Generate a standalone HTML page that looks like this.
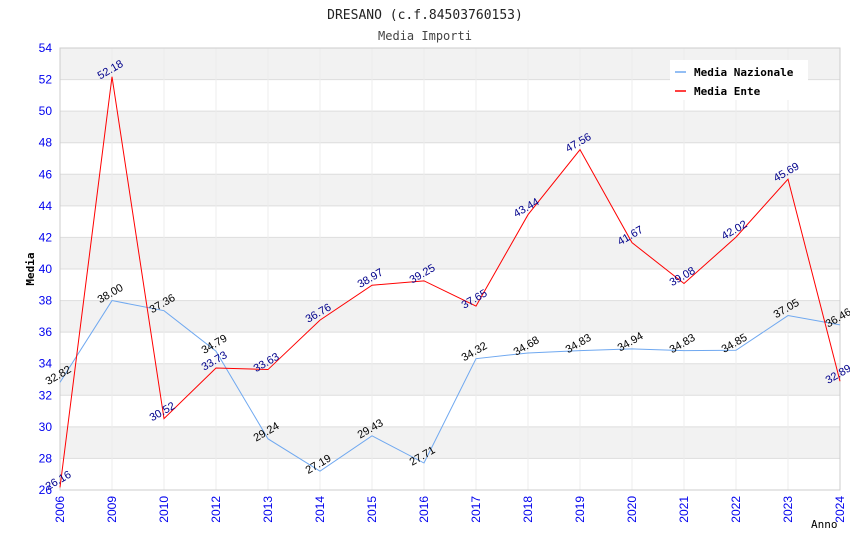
<!DOCTYPE html>
<html><head><meta charset="utf-8"><style>
body{margin:0;background:#fff;}
svg{display:block;font-family:"Liberation Sans",sans-serif;}
</style></head><body>
<svg id="chart" width="850" height="550" viewBox="0 0 850 550">
<text x="425" y="19" text-anchor="middle" font-family="DejaVu Sans Mono, Liberation Mono, monospace" font-size="13" fill="#222">DRESANO (c.f.84503760153)</text>
<text x="425" y="40" text-anchor="middle" font-family="DejaVu Sans Mono, Liberation Mono, monospace" font-size="12" fill="#444">Media Importi</text>
<g id="plot"></g>
</svg>
<script>
const years = ['2006','2009','2010','2012','2013','2014','2015','2016','2017','2018','2019','2020','2021','2022','2023','2024'];
const nazionale = [32.82,38.00,37.36,34.79,29.24,27.19,29.43,27.71,34.32,34.68,34.83,34.94,34.83,34.85,37.05,36.46];
const ente = [26.16,52.18,30.52,33.73,33.63,36.76,38.97,39.25,37.65,43.44,47.56,41.67,39.08,42.02,45.69,32.89];
const yTicks = [26,28,30,32,34,36,38,40,42,44,46,48,50,52,54];
const L=60,R=840,T=48,B=490,yMin=26,yMax=54;
const x=i=>L+i*(R-L)/(years.length-1);
const y=v=>B-(v-yMin)/(yMax-yMin)*(B-T);
const NS='http://www.w3.org/2000/svg';
const g=document.getElementById('plot');
function mk(t,a){const e=document.createElementNS(NS,t);for(const k in a)e.setAttribute(k,a[k]);g.appendChild(e);return e;}
for(let i=0;i<yTicks.length-1;i++){
  const r=mk('rect',{x:L,y:y(yTicks[i+1]),width:R-L,height:y(yTicks[i])-y(yTicks[i+1]),fill:(i%2===1)?'#f2f2f2':'#fff'});
  
  
}
yTicks.forEach(v=>{
  const l=mk('line',{x1:L,x2:R,y1:y(v),y2:y(v),stroke:'#ddd','stroke-width':1});
  
  
  const t=mk('text',{x:L-8,y:y(v)+4,'text-anchor':'end','font-size':12,fill:'#0000ee'});
  t.textContent=v;
  
  
});
years.forEach((yr,i)=>{
  const l=mk('line',{x1:x(i),x2:x(i),y1:T,y2:B,stroke:'#ececec','stroke-width':1});
  
  
  const t=mk('text',{x:x(i)+4,y:B+6,'text-anchor':'end','font-size':12,fill:'#0000ee',transform:`rotate(-90 ${x(i)+4} ${B+6})`});
  t.textContent=yr;
  
  
});
const ax=mk('rect',{x:L,y:T,width:R-L,height:B-T,fill:'none',stroke:'#ccc'});


function series(vals,color,lblColor,name){
  const p=mk('polyline',{points:vals.map((v,i)=>x(i)+','+y(v)).join(' '),fill:'none',stroke:color,'stroke-width':1});
  
  
  vals.forEach((v,i)=>{
    const px=x(i),py=y(v)-4;
    const t=mk('text',{x:px,y:py,'text-anchor':'middle','font-size':11,fill:lblColor,transform:`rotate(-30 ${px} ${py})`});
    t.textContent=v.toFixed(2);
    
    
  });
}
series(nazionale,'#6fa8f0','#000','nazionale');
series(ente,'#ff0000','#00008b','ente');
const yt=mk('text',{x:34,y:269,'text-anchor':'middle','font-size':11,'font-weight':'bold','font-family':'DejaVu Sans Mono, monospace',transform:'rotate(-90 34 269)'});
yt.textContent='Media';


const xt=mk('text',{x:811,y:528,'font-size':11,'font-family':'DejaVu Sans Mono, monospace'});
xt.textContent='Anno';


const lg=mk('rect',{x:670,y:60,width:138,height:40,fill:'#fff'});


[['Media Nazionale','#6fa8f0',72],['Media Ente','#ff0000',91]].forEach(([n,c,yy])=>{
  const l=mk('line',{x1:675,x2:686,y1:yy,y2:yy,stroke:c,'stroke-width':1.5});
  
  
  const t=mk('text',{x:694,y:yy+4,'font-size':11,'font-weight':'bold','font-family':'DejaVu Sans Mono, monospace'});
  t.textContent=n;
  
  
});
</script>
</body></html>
